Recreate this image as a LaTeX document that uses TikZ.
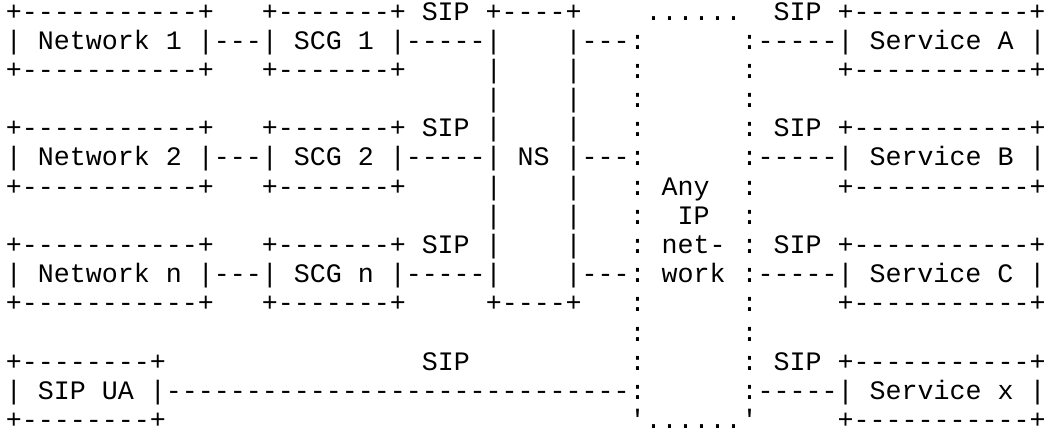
\documentclass[tikz,border=0pt]{standalone}
\usepackage{fontspec}
\setmonofont{Liberation Mono}
\frenchspacing

\begin{document}
\begin{tikzpicture}[x=6pt,y=10.946pt,
  asciirow/.style={anchor=base west,inner sep=0pt,outer sep=0pt,font=\ttfamily}]
\useasboundingbox (-0.375,0.689) rectangle (64.975,-14.188);
\node[asciirow] (r1) at (0,0) {+-----------+~~~+-------+~SIP~+----+~~~~......~~SIP~+-----------+};
\node[asciirow] (r2) at (0,-1) {|~Network~1~|---|~SCG~1~|-----|~~~~|---:~~~~~~:-----|~Service~A~|};
\node[asciirow] (r3) at (0,-2) {+-----------+~~~+-------+~~~~~|~~~~|~~~:~~~~~~:~~~~~+-----------+};
\node[asciirow] (r4) at (30,-3) {|~~~~|~~~:~~~~~~:};
\node[asciirow] (r5) at (0,-4) {+-----------+~~~+-------+~SIP~|~~~~|~~~:~~~~~~:~SIP~+-----------+};
\node[asciirow] (r6) at (0,-5) {|~Network~2~|---|~SCG~2~|-----|~NS~|---:~~~~~~:-----|~Service~B~|};
\node[asciirow] (r7) at (0,-6) {+-----------+~~~+-------+~~~~~|~~~~|~~~:~Any~~:~~~~~+-----------+};
\node[asciirow] (r8) at (30,-7) {|~~~~|~~~:~~IP~~:};
\node[asciirow] (r9) at (0,-8) {+-----------+~~~+-------+~SIP~|~~~~|~~~:~net-~:~SIP~+-----------+};
\node[asciirow] (r10) at (0,-9) {|~Network~n~|---|~SCG~n~|-----|~~~~|---:~work~:-----|~Service~C~|};
\node[asciirow] (r11) at (0,-10) {+-----------+~~~+-------+~~~~~+----+~~~:~~~~~~:~~~~~+-----------+};
\node[asciirow] (r12) at (39,-11) {:~~~~~~:};
\node[asciirow] (r13) at (0,-12) {+--------+~~~~~~~~~~~~~~~~SIP~~~~~~~~~~:~~~~~~:~SIP~+-----------+};
\node[asciirow] (r14) at (0,-13) {|~SIP~UA~|-----------------------------:~~~~~~:-----|~Service~x~|};
\node[asciirow] (r15) at (0,-14) {+--------+~~~~~~~~~~~~~~~~~~~~~~~~~~~~~'......'~~~~~+-----------+};
\end{tikzpicture}
\end{document}
